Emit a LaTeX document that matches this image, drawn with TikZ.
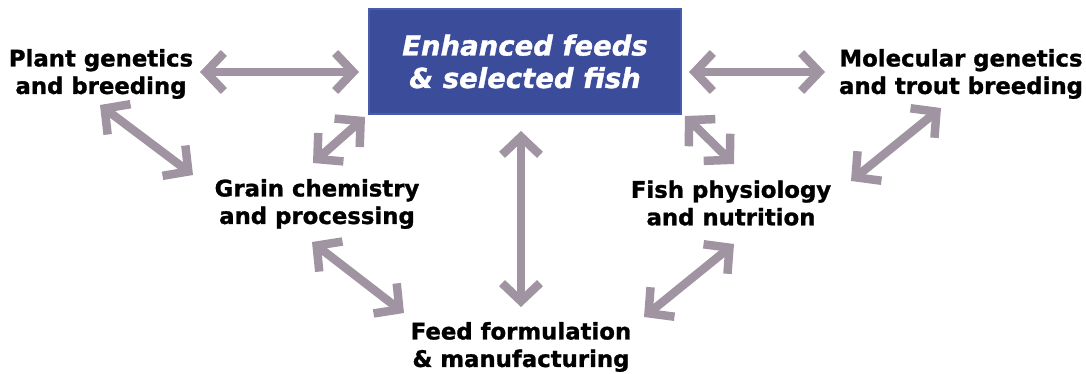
\documentclass[tikz,border=0pt]{standalone}
\usepackage{fontspec}
\setmainfont{DejaVu Sans}[BoldFeatures={FakeBold=1.2},BoldItalicFeatures={FakeBold=1.2}]
\usetikzlibrary{arrows.meta}
\definecolor{boxfill}{RGB}{59,76,154}
\definecolor{boxline}{RGB}{72,92,172}
\definecolor{arrowc}{RGB}{161,148,162}
\tikzset{
  barb/.tip={Straight Barb[length=18pt,width=38pt,sharp]},
  lbl/.style={font=\fontsize{22.8}{27.5}\selectfont\bfseries, align=center, inner sep=0pt, text=black},
  titlebox/.style={fill=boxfill, draw=boxline, line width=1.2pt, minimum width=312pt, minimum height=105pt, inner sep=0pt, align=center, text=white, font=\fontsize{27.5}{32.5}\selectfont\bfseries\itshape},
  link/.style={draw=arrowc, line width=8.5pt, barb-barb}
}
\begin{document}
\begin{tikzpicture}[x=1pt,y=-1pt]
\useasboundingbox (0,0) rectangle (1086,374);
\node[titlebox] (box) at (525,61.5) {Enhanced feeds\\\& selected fish};
\node[lbl] (plant) at (101,74) {Plant genetics\\and breeding};
\node[lbl] (mol) at (961,74) {Molecular genetics\\and trout breeding};
\node[lbl] (grain) at (317,204) {Grain chemistry\\and processing};
\node[lbl] (fish) at (731,203) {Fish physiology\\and nutrition};
\node[lbl] (feed) at (521,347) {Feed formulation\\\& manufacturing};
% connector end points
\coordinate (pb1) at (200,72);  \coordinate (pb2) at (359,72);
\coordinate (bm1) at (689,72);  \coordinate (bm2) at (825,72);
\coordinate (pg1) at (100,105); \coordinate (pg2) at (193,175);
\coordinate (gb1) at (313,163); \coordinate (gb2) at (365,117);
\coordinate (gf1) at (312,242); \coordinate (gf2) at (404,313);
\coordinate (bf1) at (521,131); \coordinate (bf2) at (521,307);
\coordinate (bh1) at (685,116); \coordinate (bh2) at (734,164);
\coordinate (hm1) at (851,181); \coordinate (hm2) at (941,108);
\coordinate (hf1) at (734,244); \coordinate (hf2) at (644,317);
\draw[link] (pb1) -- (pb2);
\draw[link] (bm1) -- (bm2);
\draw[link] (pg1) -- (pg2);
\draw[link] (gb1) -- (gb2);
\draw[link] (gf1) -- (gf2);
\draw[link] (bf1) -- (bf2);
\draw[link] (bh1) -- (bh2);
\draw[link] (hm1) -- (hm2);
\draw[link] (hf1) -- (hf2);
\end{tikzpicture}
\end{document}
